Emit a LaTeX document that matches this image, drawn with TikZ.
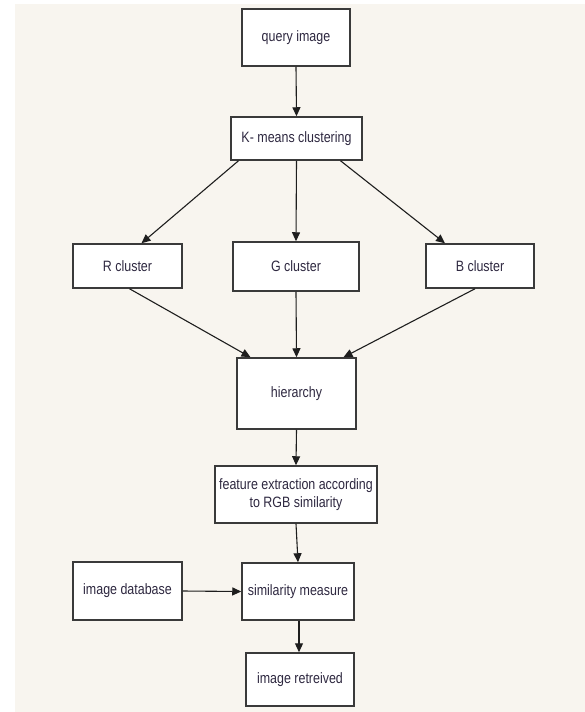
\documentclass[tikz,border=0pt]{standalone}
\usepackage{fontspec}
\setmainfont{Liberation Sans}[FakeStretch=0.83]
\usetikzlibrary{arrows.meta}
\definecolor{bgbeige}{HTML}{F8F5EF}
\definecolor{boxline}{HTML}{3A3A3A}
\definecolor{txt}{HTML}{2E2840}
\definecolor{arr}{HTML}{1E1E1E}
\tikzset{
  box/.style={draw=boxline, line width=1.5pt, fill=white, inner sep=0pt,
    text=txt, align=center, font=\fontsize{15}{18.3}\selectfont},
  conn/.style={draw=arr, line width=1.1pt, -{Triangle[length=9pt,width=8pt]}}
}
\begin{document}
\begin{tikzpicture}[x=1pt,y=-1pt]
\useasboundingbox (0,0) rectangle (585,712);
\fill[white] (0,0) rectangle (585,712);
\fill[bgbeige] (15,4) rectangle (585,712);

\node[box, minimum width=108pt, minimum height=57pt] (q) at (296,37.5) {query image};
\node[box, minimum width=131pt, minimum height=43pt] (km) at (296.5,138.5) {K- means clustering};
\node[box, minimum width=109pt, minimum height=44pt] (r) at (127.5,266) {R cluster};
\node[box, minimum width=126pt, minimum height=49pt] (g) at (296,266.5) {G cluster};
\node[box, minimum width=108pt, minimum height=44pt] (b) at (480,266) {B cluster};
\node[box, minimum width=119pt, minimum height=71pt] (h) at (296.5,393.5) {hierarchy};
\node[box, minimum width=162pt, minimum height=57pt] (f) at (296,494.5) {feature extraction according\\to RGB similarity};
\node[box, minimum width=109pt, minimum height=58pt] (db) at (127.5,591) {image database};
\node[box, minimum width=112pt, minimum height=57pt] (s) at (298,591.5) {similarity measure};
\node[box, minimum width=108pt, minimum height=53pt] (ret) at (300,679.5) {image retreived};

\draw[conn] (q.south) -- (km.north);
\draw[conn] ([xshift=-58pt]km.south) -- ([xshift=14pt]r.north);
\draw[conn] (km.south) -- (g.north);
\draw[conn] ([xshift=44pt]km.south) -- ([xshift=-35pt]b.north);
\draw[conn] ([xshift=2pt]r.south) -- ([xshift=-46pt]h.north);
\draw[conn] (g.south) -- (h.north);
\draw[conn] ([xshift=-5pt]b.south) -- ([xshift=47pt]h.north);
\draw[conn] (h.south) -- (f.north);
\draw[conn] (f.south) -- (s.north);
\draw[conn] (db.east) -- (s.west);
\draw[conn] ([xshift=1pt]s.south) -- ([xshift=-1pt]ret.north);
\end{tikzpicture}
\end{document}
